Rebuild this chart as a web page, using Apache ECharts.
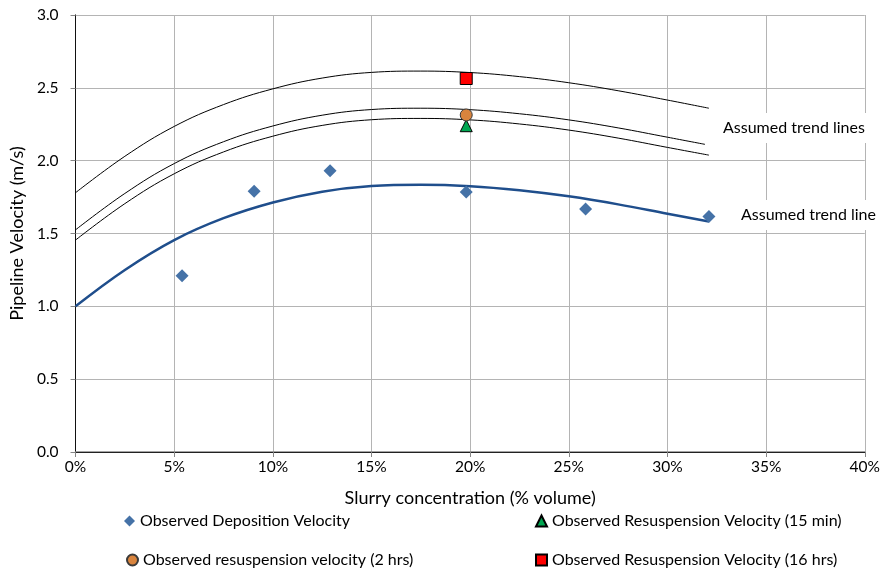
<!DOCTYPE html>
<html>
<head>
<meta charset="utf-8">
<script src="https://cdn.jsdelivr.net/npm/echarts@6/dist/echarts.min.js"></script>
<style>
  html, body { margin: 0; padding: 0; background: #fff; }
  #main { width: 883px; height: 574px; }
</style>
</head>
<body>
<div id="main"></div>
<script>
// slurry concentration (% volume) vs pipeline velocity (m/s)
var depositionX = [5.4, 9.05, 12.9, 19.8, 25.85, 32.1];
var depositionY = [1.21, 1.79, 1.93, 1.785, 1.668, 1.617];

var resusp15min = [[19.8, 2.24]];
var resusp2hrs = [[19.8, 2.314]];
var resusp16hrs = [[19.8, 2.564]];

// trend lines
var trendX = [0, 2.5, 5, 7.5, 10, 12.5, 15, 17.5, 20, 22.5, 25, 27.5, 30, 32.1];
var trendBlue = [1.0, 1.25, 1.455, 1.605, 1.713, 1.787, 1.826, 1.835, 1.825, 1.797, 1.755, 1.70, 1.636, 1.583];
var trendTop = [1.78, 2.03, 2.235, 2.385, 2.493, 2.567, 2.606, 2.615, 2.605, 2.577, 2.535, 2.48, 2.416, 2.36];
var trendMidX = [0, 2.5, 5, 7.5, 10, 12.5, 15, 17.5, 20, 22.5, 25, 27.5, 30, 31.9];
var trendMid = [1.525, 1.775, 1.98, 2.13, 2.238, 2.312, 2.351, 2.36, 2.35, 2.322, 2.28, 2.225, 2.161, 2.112];
var trendLow = [1.455, 1.705, 1.91, 2.06, 2.168, 2.242, 2.281, 2.29, 2.28, 2.252, 2.21, 2.155, 2.091, 2.038];

var xTicks = { min: 0, max: 40, interval: 5 };
var yTicks = { min: 0, max: 3, interval: 0.5 };

function pairs(xs, ys) {
  return xs.map(function (x, i) { return [x, ys[i]]; });
}

var font = 'Lato, "Open Sans", sans-serif';
var myChart = echarts.init(document.getElementById('main'));

function trend(data, color, width) {
  return {
    type: 'line',
    data: data,
    smooth: 0.4,
    showSymbol: false,
    silent: true,
    z: 2,
    lineStyle: { color: color, width: width }
  };
}

var legendText = { fontFamily: font, fontSize: 16, color: '#000' };

myChart.setOption({
  animation: false,
  textStyle: { fontFamily: font },
  grid: { left: 71, right: 15, top: 15, bottom: 122, containLabel: false },
  legend: [
    { data: ['Observed Deposition Velocity'], left: 119, top: 508, itemWidth: 11, itemHeight: 11, textStyle: legendText },
    { data: ['Observed Resuspension Velocity (15 min)'], left: 530, top: 508, itemWidth: 11, itemHeight: 11, textStyle: legendText },
    { data: ['Observed resuspension velocity (2 hrs)'], left: 121, top: 547, itemWidth: 11, itemHeight: 11, textStyle: legendText },
    { data: ['Observed Resuspension Velocity (16 hrs)'], left: 530, top: 547, itemWidth: 11, itemHeight: 11, textStyle: legendText }
  ],
  xAxis: [
    {
      type: 'value',
      min: xTicks.min, max: xTicks.max, interval: xTicks.interval,
      name: 'Slurry concentration (% volume)',
      nameLocation: 'middle',
      nameGap: 37,
      nameTextStyle: { fontFamily: font, fontSize: 18, color: '#000' },
      axisLine: { show: true, lineStyle: { color: '#868686', width: 1.5 } },
      axisTick: { show: true, length: 5, lineStyle: { color: '#868686' } },
      axisLabel: { formatter: '{value}%', fontFamily: font, fontSize: 15.5, color: '#000', margin: 7 },
      splitLine: { show: true, lineStyle: { color: '#b4b4b4', width: 1 } }
    },
    {
      type: 'value', position: 'top',
      min: xTicks.min, max: xTicks.max, interval: xTicks.interval,
      axisLine: { show: true, lineStyle: { color: '#222', width: 1 } },
      axisTick: { show: false }, axisLabel: { show: false }, splitLine: { show: false }
    }
  ],
  yAxis: [
    {
      type: 'value',
      min: yTicks.min, max: yTicks.max, interval: yTicks.interval,
      name: 'Pipeline Velocity (m/s)',
      nameLocation: 'middle',
      nameGap: 43,
      nameTextStyle: { fontFamily: font, fontSize: 18, color: '#000' },
      axisLine: { show: true, lineStyle: { color: '#868686', width: 1 } },
      axisTick: { show: true, length: 5, lineStyle: { color: '#868686' } },
      axisLabel: { formatter: function (v) { return v.toFixed(1); }, fontFamily: font, fontSize: 15.5, color: '#000', margin: 17 },
      splitLine: { show: true, lineStyle: { color: '#b4b4b4', width: 1 } }
    },
    {
      type: 'value', position: 'right',
      min: yTicks.min, max: yTicks.max, interval: yTicks.interval,
      axisLine: { show: true, lineStyle: { color: '#111', width: 1 } },
      axisTick: { show: false }, axisLabel: { show: false }, splitLine: { show: false }
    }
  ],
  series: [
    trend(pairs(trendX, trendTop), '#000', 1),
    trend(pairs(trendMidX, trendMid), '#000', 1),
    trend(pairs(trendX, trendLow), '#000', 1),
    trend(pairs(trendX, trendBlue), '#1f4e8c', 2.5),
    {
      name: 'Observed Deposition Velocity',
      type: 'scatter',
      data: pairs(depositionX, depositionY),
      symbol: 'diamond',
      symbolSize: [13, 13],
      z: 3,
      itemStyle: { color: '#4572a7', opacity: 1 }
    },
    {
      name: 'Observed Resuspension Velocity (15 min)',
      type: 'scatter',
      data: resusp15min,
      symbol: 'triangle',
      symbolSize: 12,
      z: 4,
      itemStyle: { color: '#00a651', borderColor: '#000', borderWidth: 1, opacity: 1 }
    },
    {
      name: 'Observed resuspension velocity (2 hrs)',
      type: 'scatter',
      data: resusp2hrs,
      symbol: 'circle',
      symbolSize: 12,
      z: 4,
      itemStyle: { color: '#d9843d', borderColor: '#3a3a3a', borderWidth: 1, opacity: 1 }
    },
    {
      name: 'Observed Resuspension Velocity (16 hrs)',
      type: 'scatter',
      data: resusp16hrs,
      symbol: 'rect',
      symbolSize: 12,
      z: 4,
      itemStyle: { color: '#ff0000', borderColor: '#000', borderWidth: 1, opacity: 1 }
    }
  ],
  graphic: [
    {
      type: 'text', left: 713, top: 113, z: 10,
      style: {
        text: 'Assumed trend lines', fontFamily: font, fontSize: 16, fill: '#000',
        backgroundColor: '#fff', padding: [7, 10, 7, 10]
      }
    },
    {
      type: 'text', left: 731, top: 200, z: 10,
      style: {
        text: 'Assumed trend line', fontFamily: font, fontSize: 16, fill: '#000',
        backgroundColor: '#fff', padding: [7, 10, 7, 10]
      }
    }
  ]
});

window.addEventListener('resize', function () {
  myChart.resize();
});
</script>
</body>
</html>
